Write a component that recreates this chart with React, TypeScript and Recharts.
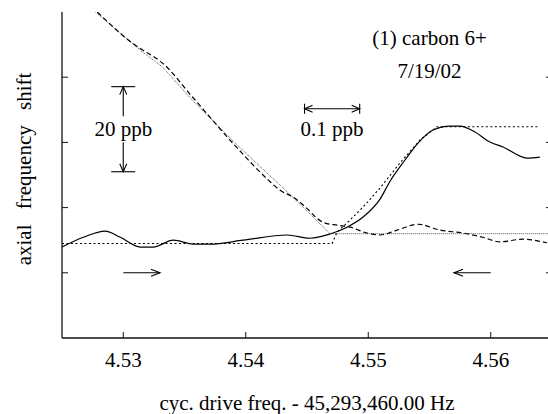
import { LineChart, Line, XAxis, YAxis, ReferenceLine, ReferenceDot } from "recharts";

const FONT = '"Liberation Serif", "Times New Roman", serif';
const FS = 21;

// measured sweep, rising (solid)
const solidX = [4.525, 4.52674, 4.52853, 4.52976, 4.53139, 4.53245, 4.53408, 4.53571, 4.5371, 4.53979, 4.54338, 4.54525, 4.54688, 4.54827, 4.54958, 4.55096, 4.55178, 4.553, 4.55406, 4.55529, 4.55667, 4.55749, 4.55871, 4.55993, 4.561, 4.56295, 4.56401];
const solidY = [27.9, 30.9, 32.8, 30.9, 27.9, 27.9, 30.0, 28.8, 28.8, 30.0, 31.6, 30.6, 31.9, 34.0, 37.1, 42.6, 48.1, 54.6, 59.8, 63.8, 65.0, 65.0, 63.2, 60.1, 58.6, 55.2, 55.5];

// measured sweep, falling (dashed)
const dashX = [4.52788, 4.53155, 4.53196, 4.53318, 4.53563, 4.5393, 4.54183, 4.54281, 4.54387, 4.54469, 4.54631, 4.54746, 4.54852, 4.5499, 4.55096, 4.55235, 4.55406, 4.55586, 4.55773, 4.55936, 4.56075, 4.56263, 4.56458];
const dashY = [100, 88.4, 87.5, 84.4, 74.0, 58.3, 48.5, 45.3, 43.2, 40.8, 35.5, 34.6, 34.0, 32.2, 31.6, 33.1, 34.9, 33.1, 32.2, 30.9, 29.5, 30.3, 29.2];

// fit to the rising sweep (dotted)
const fitRiseX = [4.525, 4.54705, 4.54746, 4.54852, 4.54958, 4.55096, 4.55259, 4.55422, 4.55561, 4.56385];
const fitRiseY = [29.0, 29.0, 32.5, 36.2, 40.2, 46.0, 53.7, 60.7, 64.8, 64.8];

// fit to the falling sweep (fine dotted)
const fitFallX = [4.52772, 4.53155, 4.53318, 4.53563, 4.5393, 4.54199, 4.54281, 4.54485, 4.54688, 4.565];
const fitFallY = [100, 87.8, 83.2, 73.0, 59.2, 49.7, 46.9, 39.5, 32.0, 32.0];

const xTicks = [4.53, 4.54, 4.55, 4.56];
const yTicks = [20, 40, 60, 80];

const zip = (xs: number[], ys: number[]) => xs.map((x, i) => ({ x, y: ys[i] }));

// open arrowhead with tip at (x, y) pointing along ang
const head = (x: number, y: number, ang: number, len = 8, half = 3.5) => {
  const bx = x - len * Math.cos(ang);
  const by = y - len * Math.sin(ang);
  const px = -Math.sin(ang) * half;
  const py = Math.cos(ang) * half;
  return `M${bx + px},${by + py}L${x},${y}L${bx - px},${by - py}`;
};

const Arrow = (p: any) => {
  const ang = Math.atan2(p.y2 - p.y1, p.x2 - p.x1);
  return (
    <g stroke="#000" strokeWidth={1.1} fill="none">
      <line x1={p.x1} y1={p.y1} x2={p.x2} y2={p.y2} />
      <path d={head(p.x2, p.y2, ang, 9, 3.5)} />
    </g>
  );
};

const makeVBar = (label: string) => (p: any) => {
  const top = Math.min(p.y1, p.y2);
  const bot = Math.max(p.y1, p.y2);
  const mid = (top + bot) / 2;
  const x = p.x1;
  return (
    <g stroke="#000" strokeWidth={1.1} fill="none">
      <line x1={x - 12} x2={x + 12} y1={top} y2={top} />
      <line x1={x - 12} x2={x + 12} y1={bot} y2={bot} />
      <line x1={x} x2={x} y1={top} y2={mid - 13} />
      <line x1={x} x2={x} y1={mid + 13} y2={bot} />
      <path d={head(x, top, -Math.PI / 2)} />
      <path d={head(x, bot, Math.PI / 2)} />
      <text x={x} y={mid} dy="0.32em" textAnchor="middle" stroke="none" fill="#000" fontSize={FS}>
        {label}
      </text>
    </g>
  );
};

const makeHBar = (label: string) => (p: any) => {
  const l = Math.min(p.x1, p.x2);
  const r = Math.max(p.x1, p.x2);
  const y = p.y1;
  return (
    <g stroke="#000" strokeWidth={1.1} fill="none">
      <line x1={l} x2={l} y1={y - 5} y2={y + 5} />
      <line x1={r} x2={r} y1={y - 5} y2={y + 5} />
      <line x1={l} x2={r} y1={y} y2={y} />
      <path d={head(l, y, Math.PI)} />
      <path d={head(r, y, 0)} />
      <text x={(l + r) / 2} y={y + 20} dy="0.35em" textAnchor="middle" stroke="none" fill="#000" fontSize={FS}>
        {label}
      </text>
    </g>
  );
};

const YLabel = (props: any) => {
  const vb = props.viewBox ?? { x: 0, y: 12, width: 62, height: 326 };
  const cx = vb.x + 24;
  const cy = vb.y + vb.height / 2 - 6;
  return (
    <text
      x={cx}
      y={cy}
      dy="0.35em"
      transform={`rotate(-90 ${cx} ${cy})`}
      textAnchor="middle"
      fill="#000"
      fontSize={FS}
      wordSpacing={10}
    >
      axial frequency shift
    </text>
  );
};

const axisStroke = { stroke: "#111", strokeWidth: 1.3 };
const none = () => "";

export default function App() {
  return (
    <div
      style={{
        position: "absolute",
        left: 0,
        top: 0,
        width: 548,
        height: 414,
        overflow: "hidden",
        background: "#fff",
        fontFamily: FONT,
      }}
    >
      <LineChart width={560} height={414} margin={{ top: 12, right: 0, bottom: 0, left: 0 }}>
        <XAxis
          xAxisId="b"
          dataKey="x"
          type="number"
          domain={[4.525, 4.565]}
          ticks={xTicks}
          orientation="bottom"
          height={76}
          tickSize={-6}
          tickMargin={20}
          tickFormatter={(v: number) => v.toFixed(2)}
          tick={{ fill: "#000", fontSize: FS, fontFamily: FONT }}
          axisLine={axisStroke}
          tickLine={{ stroke: "#111" }}
          allowDataOverflow
          label={{ value: "cyc. drive freq. - 45,293,460.00 Hz", position: "insideBottom", offset: 4, fill: "#000", fontSize: FS, fontFamily: FONT }}
        />
        <XAxis
          xAxisId="t"
          dataKey="x"
          type="number"
          domain={[4.525, 4.565]}
          ticks={xTicks}
          orientation="top"
          height={0}
          tickSize={-6}
          tickFormatter={none}
          axisLine={axisStroke}
          tickLine={{ stroke: "#111" }}
          allowDataOverflow
        />
        <YAxis
          yAxisId="l"
          type="number"
          domain={[0, 100]}
          ticks={yTicks}
          orientation="left"
          width={62}
          tickSize={-6}
          tickFormatter={none}
          axisLine={axisStroke}
          tickLine={{ stroke: "#111" }}
          allowDataOverflow
          label={{ content: YLabel }}
        />
        <YAxis
          yAxisId="r"
          type="number"
          domain={[0, 100]}
          ticks={yTicks}
          orientation="right"
          width={8}
          tickSize={-6}
          tickFormatter={none}
          axisLine={axisStroke}
          tickLine={{ stroke: "#111" }}
          allowDataOverflow
        />

        <Line
          xAxisId="b"
          yAxisId="l"
          data={zip(fitFallX, fitFallY)}
          dataKey="y"
          type="linear"
          stroke="#444"
          strokeWidth={0.9}
          strokeDasharray="1 1"
          dot={false}
          isAnimationActive={false}
        />
        <Line
          xAxisId="b"
          yAxisId="l"
          data={zip(fitRiseX, fitRiseY)}
          dataKey="y"
          type="linear"
          stroke="#000"
          strokeWidth={1.1}
          strokeDasharray="2 2.5"
          dot={false}
          isAnimationActive={false}
        />
        <Line
          xAxisId="b"
          yAxisId="l"
          data={zip(dashX, dashY)}
          dataKey="y"
          type="monotone"
          stroke="#000"
          strokeWidth={1.2}
          strokeDasharray="5 3"
          dot={false}
          isAnimationActive={false}
        />
        <Line
          xAxisId="b"
          yAxisId="l"
          data={zip(solidX, solidY)}
          dataKey="y"
          type="monotone"
          stroke="#000"
          strokeWidth={1.2}
          dot={false}
          isAnimationActive={false}
        />

        <ReferenceLine
          xAxisId="b"
          yAxisId="l"
          segment={[{ x: 4.53, y: 77.1 }, { x: 4.53, y: 51.0 }]}
          shape={makeVBar("20 ppb")}
        />
        <ReferenceLine
          xAxisId="b"
          yAxisId="l"
          segment={[{ x: 4.5448, y: 70.3 }, { x: 4.5493, y: 70.3 }]}
          shape={makeHBar("0.1 ppb")}
        />
        <ReferenceLine
          xAxisId="b"
          yAxisId="l"
          segment={[{ x: 4.53, y: 20 }, { x: 4.533, y: 20 }]}
          shape={Arrow}
        />
        <ReferenceLine
          xAxisId="b"
          yAxisId="l"
          segment={[{ x: 4.56, y: 20 }, { x: 4.557, y: 20 }]}
          shape={Arrow}
        />
        <ReferenceDot
          xAxisId="b"
          yAxisId="l"
          x={4.555}
          y={92.2}
          r={0}
          fill="none"
          stroke="none"
          label={{ value: "(1) carbon 6+", position: "center", fill: "#000", fontSize: FS, fontFamily: FONT }}
        />
        <ReferenceDot
          xAxisId="b"
          yAxisId="l"
          x={4.555}
          y={82.1}
          r={0}
          fill="none"
          stroke="none"
          label={{ value: "7/19/02", position: "center", fill: "#000", fontSize: FS, fontFamily: FONT }}
        />
      </LineChart>
    </div>
  );
}
